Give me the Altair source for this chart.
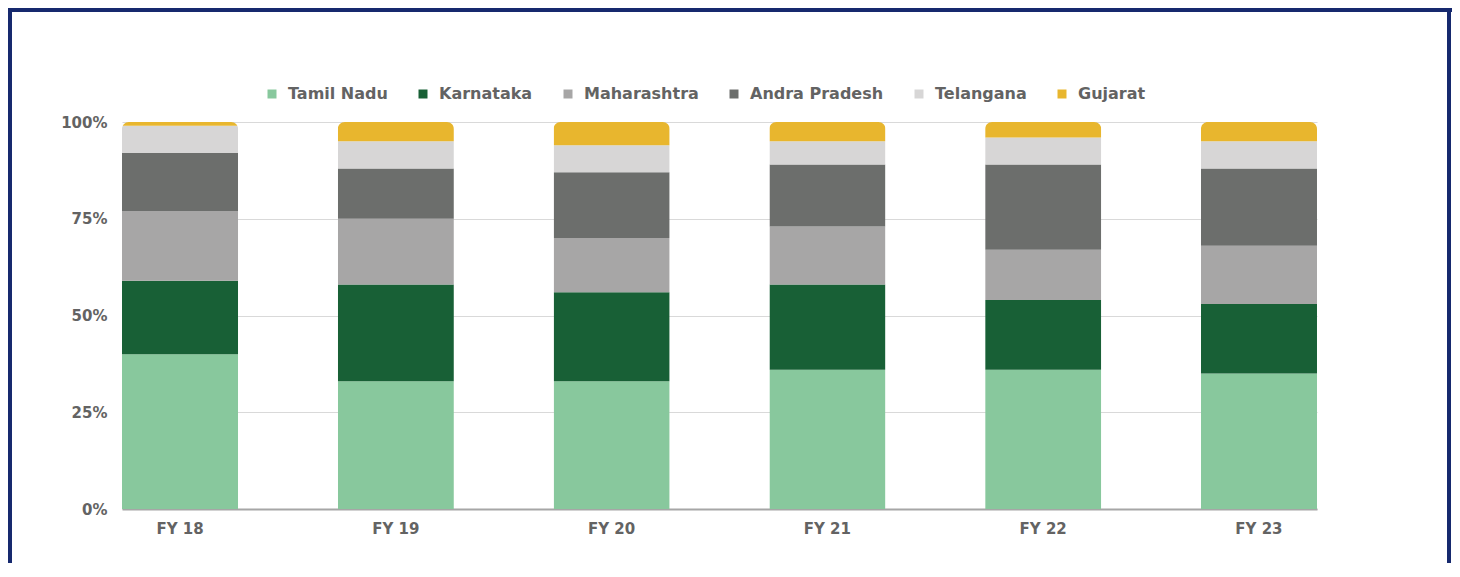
import altair as alt
import pandas as pd

years = ["FY 18", "FY 19", "FY 20", "FY 21", "FY 22", "FY 23"]
states = ["Tamil Nadu", "Karnataka", "Maharashtra", "Andra Pradesh", "Telangana", "Gujarat"]
tamil_nadu = [40, 33, 33, 36, 36, 35]
karnataka = [19, 25, 23, 22, 18, 18]
maharashtra = [18, 17, 14, 15, 13, 15]
andra_pradesh = [15, 13, 17, 16, 22, 20]
telangana = [7, 7, 7, 6, 7, 7]
gujarat = [1, 5, 6, 5, 4, 5]
colors = ["#88C89D", "#186036", "#A7A6A6", "#6C6E6C", "#D7D6D6", "#E8B62E"]

series = [tamil_nadu, karnataka, maharashtra, andra_pradesh, telangana, gujarat]
rows = []
for si, (name, vals) in enumerate(zip(states, series)):
    for y, v in zip(years, vals):
        rows.append({"year": y, "state": name, "value": v, "idx": si})
df = pd.DataFrame(rows)

FONT = "DejaVu Sans"
TXT = "#636363"

bars = alt.Chart(df).mark_bar(cornerRadiusTopLeft=7, cornerRadiusTopRight=7).encode(
    x=alt.X("year:N", sort=years,
            scale=alt.Scale(paddingInner=0.462, paddingOuter=0),
            axis=alt.Axis(title=None, labelAngle=0, labelPadding=12, ticks=False,
                          domainColor="#A6A6A6", domainWidth=2, grid=False)),
    y=alt.Y("value:Q", stack="normalize",
            scale=alt.Scale(domain=[0, 1]),
            axis=alt.Axis(title=None, values=[0, 0.25, 0.5, 0.75, 1], format=".0%",
                          labelPadding=15, ticks=False, domain=False,
                          gridColor="#D9D9D9", gridWidth=1)),
    color=alt.Color("state:N", sort=states,
                    scale=alt.Scale(domain=states, range=colors),
                    legend=alt.Legend(title=None, orient="none", direction="horizontal",
                                      legendX=142, legendY=-36, symbolType="square",
                                      symbolSize=81, symbolStrokeWidth=0,
                                      labelOffset=8, columnPadding=27,
                                      labelFontSize=16, labelFontWeight="bold",
                                      labelColor=TXT, labelFont=FONT)),
    order=alt.Order("idx:Q", sort="ascending"),
)

bdf = pd.DataFrame({"k": [0]})
NAVY = "#16296E"
top = alt.Chart(bdf).mark_rule(color=NAVY, strokeWidth=4).encode(
    x=alt.value(-114), x2=alt.value(1330), y=alt.value(-112))
left = alt.Chart(bdf).mark_rule(color=NAVY, strokeWidth=4).encode(
    x=alt.value(-112), y=alt.value(-114), y2=alt.value(441))
right = alt.Chart(bdf).mark_rule(color=NAVY, strokeWidth=4).encode(
    x=alt.value(1327), y=alt.value(-114), y2=alt.value(441))

chart = alt.layer(bars, top, left, right).properties(
    width=1195, height=387,
    autosize=alt.AutoSizeParams(type="none"),
    padding={"left": 114, "top": 114, "right": 135, "bottom": 54},
).configure_view(stroke=None).configure_axis(
    labelFont=FONT, labelFontSize=15, labelFontWeight="bold", labelColor=TXT
)

chart.save("out.html", embed_options={"renderer": "svg", "actions": False})
